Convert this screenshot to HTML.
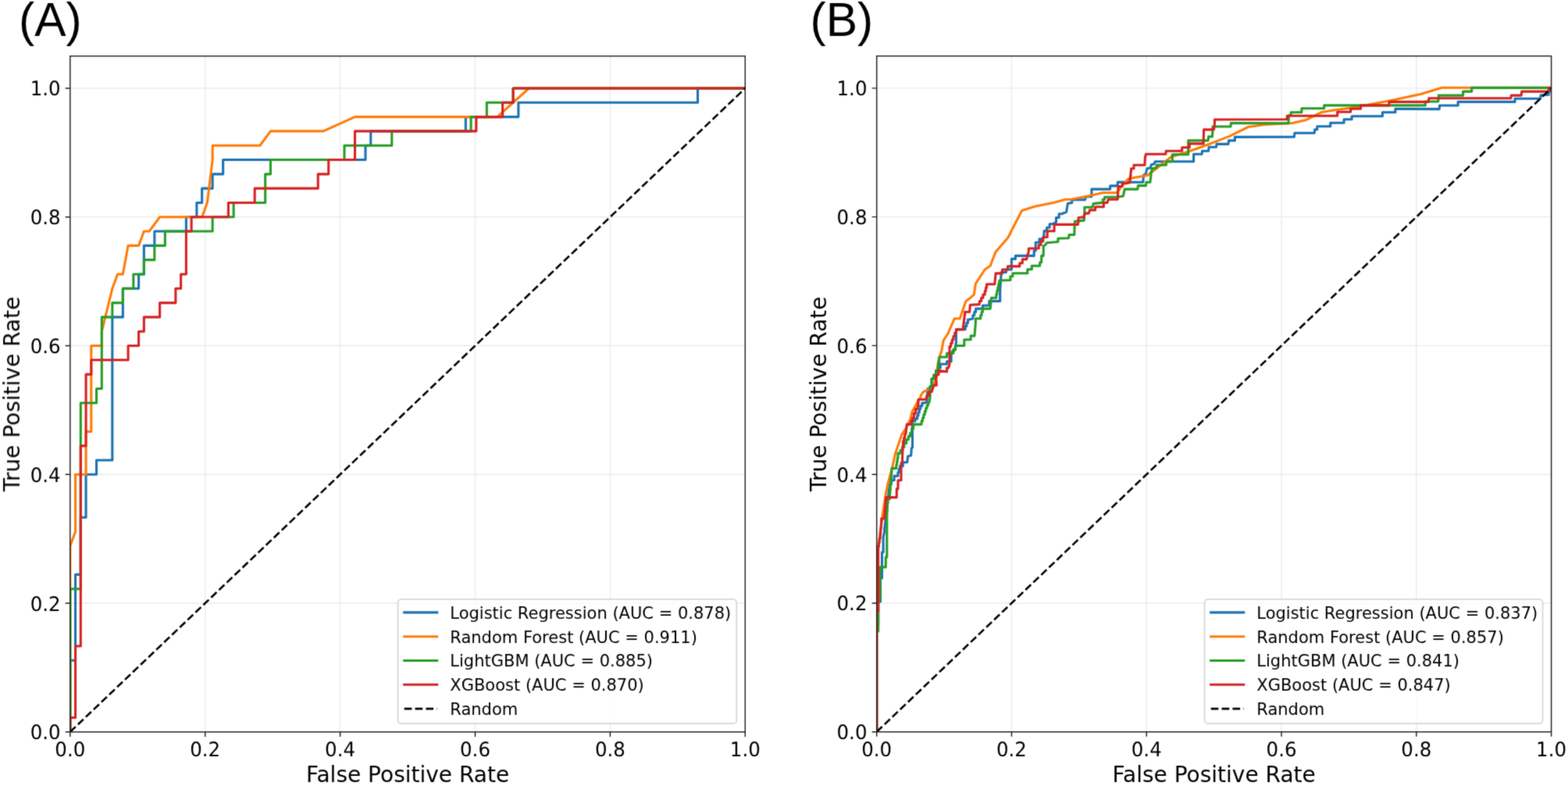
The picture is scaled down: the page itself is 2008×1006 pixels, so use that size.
<!DOCTYPE html>
<html><head><meta charset="utf-8"><title>ROC curves</title>
<style>html,body{margin:0;padding:0;background:#fff;}svg{display:block;}</style>
</head><body>
<svg width="2008" height="1006" viewBox="0 0 2008 1006">
<defs><filter id="bl" filterUnits="userSpaceOnUse" x="0" y="0" width="2008" height="1006" color-interpolation-filters="sRGB"><feConvolveMatrix order="3" kernelMatrix="1 4 1 4 20 4 1 4 1" edgeMode="duplicate"/></filter><clipPath id="ca"><rect x="89.8" y="71.8" width="864.5" height="865"/></clipPath><clipPath id="cb"><rect x="1122.7" y="71.7" width="863.9" height="865"/></clipPath></defs>
<rect width="2008" height="1006" fill="#fff"/>
<g font-family="'DejaVu Sans', 'Liberation Sans', sans-serif" fill="#000" filter="url(#bl)">
<path d="M89.8 71.8 V936.8 M89.8 936.8 H954.3 M262.7 71.8 V936.8 M89.8 772.04 H954.3 M435.6 71.8 V936.8 M89.8 607.28 H954.3 M608.5 71.8 V936.8 M89.8 442.51 H954.3 M781.4 71.8 V936.8 M89.8 277.75 H954.3 M954.3 71.8 V936.8 M89.8 112.99 H954.3" stroke="#ebebeb" stroke-width="1.4" fill="none"/>
<g clip-path="url(#ca)" fill="none" stroke-linejoin="round">
<path d="M89.8 936.8 L89.8 845.27 L96.55 845.27 L96.55 735.42 L103.31 735.42 L103.31 662.2 L110.06 662.2 L110.06 607.28 L123.57 607.28 L123.57 588.97 L143.83 588.97 L143.83 405.9 L157.34 405.9 L157.34 369.29 L177.6 369.29 L177.6 350.98 L184.35 350.98 L184.35 314.37 L197.86 314.37 L197.86 296.06 L238.39 296.06 L238.39 277.75 L251.89 277.75 L251.89 259.45 L258.65 259.45 L258.65 241.14 L272.16 241.14 L272.16 222.83 L285.66 222.83 L285.66 204.52 L468.02 204.52 L468.02 186.22 L474.77 186.22 L474.77 167.91 L596.34 167.91 L596.34 149.6 L663.88 149.6 L663.88 131.3 L893.51 131.3 L893.51 112.99 L954.3 112.99" stroke="#1b72b2" stroke-width="3.1" stroke-linecap="square"/>
<path d="M89.8 936.8 L89.8 698.81 L96.55 680.5 L96.55 607.28 L110.06 607.28 L110.06 552.36 L116.82 552.36 L116.82 442.51 L130.32 442.51 L130.32 424.21 L143.83 369.29 L150.59 350.98 L157.34 350.98 L164.09 314.37 L177.6 314.37 L184.35 296.06 L191.11 296.06 L204.62 277.75 L258.65 277.75 L265.4 259.45 L272.16 204.52 L272.16 186.22 L332.94 186.22 L346.45 167.91 L413.99 167.91 L454.51 149.6 L636.87 149.6 L677.39 112.99 L954.3 112.99" stroke="#ff7b07" stroke-width="3.1" stroke-linecap="square"/>
<path d="M89.8 936.8 L89.8 753.73 L103.31 753.73 L103.31 515.74 L123.57 515.74 L123.57 497.43 L130.32 497.43 L130.32 405.9 L143.83 405.9 L143.83 387.59 L157.34 387.59 L157.34 369.29 L170.85 369.29 L170.85 350.98 L184.35 350.98 L184.35 332.67 L197.86 332.67 L197.86 314.37 L211.37 314.37 L211.37 296.06 L272.16 296.06 L272.16 277.75 L299.17 277.75 L299.17 259.45 L339.69 259.45 L339.69 222.83 L346.45 222.83 L346.45 204.52 L441 204.52 L441 186.22 L501.79 186.22 L501.79 167.91 L603.1 167.91 L603.1 149.6 L623.36 149.6 L623.36 131.3 L657.13 131.3 L657.13 112.99 L954.3 112.99" stroke="#269d26" stroke-width="3.1" stroke-linecap="square"/>
<path d="M89.8 936.8 L89.8 918.49 L96.55 918.49 L96.55 826.96 L103.31 826.96 L103.31 570.66 L110.06 570.66 L110.06 479.13 L116.82 479.13 L116.82 460.82 L164.09 460.82 L164.09 442.51 L177.6 442.51 L177.6 424.21 L184.35 424.21 L184.35 405.9 L204.62 405.9 L204.62 387.59 L224.88 387.59 L224.88 369.29 L231.63 369.29 L231.63 350.98 L238.39 350.98 L238.39 296.06 L245.14 296.06 L245.14 277.75 L292.42 277.75 L292.42 259.45 L326.19 259.45 L326.19 241.14 L407.23 241.14 L407.23 222.83 L420.74 222.83 L420.74 204.52 L454.51 204.52 L454.51 167.91 L609.85 167.91 L609.85 149.6 L643.62 149.6 L643.62 131.3 L657.13 131.3 L657.13 112.99 L954.3 112.99" stroke="#d62222" stroke-width="3.1" stroke-linecap="square"/>
<path d="M89.8 936.8 L954.3 112.99" stroke="#000" stroke-width="2.6" stroke-dasharray="9.67 4.19"/>
</g>
<rect x="89.8" y="71.8" width="864.5" height="865" fill="none" stroke="#1c1c1c" stroke-width="1.4"/>
<path d="M89.8 936.8 v6.1 M89.8 936.8 h-6.1 M262.7 936.8 v6.1 M89.8 772.04 h-6.1 M435.6 936.8 v6.1 M89.8 607.28 h-6.1 M608.5 936.8 v6.1 M89.8 442.51 h-6.1 M781.4 936.8 v6.1 M89.8 277.75 h-6.1 M954.3 936.8 v6.1 M89.8 112.99 h-6.1" stroke="#1c1c1c" stroke-width="1.4"/>
<g font-size="24.5" text-rendering="geometricPrecision">
<text x="89.8" y="968.1" text-anchor="middle" transform="matrix(1 0 0 1.045 0 -43.56)">0.0</text>
<text x="77.6" y="945.8" text-anchor="end" transform="matrix(1 0 0 1.045 0 -42.06)">0.0</text>
<text x="262.7" y="968.1" text-anchor="middle" transform="matrix(1 0 0 1.045 0 -43.56)">0.2</text>
<text x="77.6" y="781.04" text-anchor="end" transform="matrix(1 0 0 1.045 0 -34.65)">0.2</text>
<text x="435.6" y="968.1" text-anchor="middle" transform="matrix(1 0 0 1.045 0 -43.56)">0.4</text>
<text x="77.6" y="616.28" text-anchor="end" transform="matrix(1 0 0 1.045 0 -27.23)">0.4</text>
<text x="608.5" y="968.1" text-anchor="middle" transform="matrix(1 0 0 1.045 0 -43.56)">0.6</text>
<text x="77.6" y="451.51" text-anchor="end" transform="matrix(1 0 0 1.045 0 -19.82)">0.6</text>
<text x="781.4" y="968.1" text-anchor="middle" transform="matrix(1 0 0 1.045 0 -43.56)">0.8</text>
<text x="77.6" y="286.75" text-anchor="end" transform="matrix(1 0 0 1.045 0 -12.4)">0.8</text>
<text x="954.3" y="968.1" text-anchor="middle" transform="matrix(1 0 0 1.045 0 -43.56)">1.0</text>
<text x="77.6" y="121.99" text-anchor="end" transform="matrix(1 0 0 1.045 0 -4.99)">1.0</text>
</g>
<text x="522.05" y="1001.4" font-size="28" text-anchor="middle">False Positive Rate</text>
<text transform="translate(25 504.3) rotate(-90)" font-size="28" text-anchor="middle">True Positive Rate</text>
<text x="24" y="46.3" font-size="60.5" font-family="'Liberation Sans', Arial, sans-serif">(A)</text>
<rect x="509.6" y="767.2" width="433.7" height="159" rx="4.2" ry="4.2" fill="#fff" fill-opacity="0.8" stroke="#d6d6d6" stroke-width="1.75"/>
<path d="M517.7 783.9 H559.7" stroke="#1b72b2" stroke-width="3.1" stroke-linecap="square"/>
<text x="576.3" y="791.7" font-size="21">Logistic Regression (AUC = 0.878)</text>
<path d="M517.7 814.7 H559.7" stroke="#ff7b07" stroke-width="3.1" stroke-linecap="square"/>
<text x="576.3" y="822.5" font-size="21">Random Forest (AUC = 0.911)</text>
<path d="M517.7 845.5 H559.7" stroke="#269d26" stroke-width="3.1" stroke-linecap="square"/>
<text x="576.3" y="853.3" font-size="21">LightGBM (AUC = 0.885)</text>
<path d="M517.7 876.3 H559.7" stroke="#d62222" stroke-width="3.1" stroke-linecap="square"/>
<text x="576.3" y="884.1" font-size="21">XGBoost (AUC = 0.870)</text>
<path d="M517.7 907.1 H559.7" stroke="#000" stroke-width="2.6" stroke-dasharray="9.67 4.19"/>
<text x="576.3" y="914.9" font-size="21">Random</text>
<path d="M1122.7 71.7 V936.7 M1122.7 936.7 H1986.6 M1295.48 71.7 V936.7 M1122.7 771.94 H1986.6 M1468.26 71.7 V936.7 M1122.7 607.18 H1986.6 M1641.04 71.7 V936.7 M1122.7 442.41 H1986.6 M1813.82 71.7 V936.7 M1122.7 277.65 H1986.6 M1986.6 71.7 V936.7 M1122.7 112.89 H1986.6" stroke="#ebebeb" stroke-width="1.4" fill="none"/>
<g clip-path="url(#cb)" fill="none" stroke-linejoin="round">
<path d="M1122.7 936.7 L1122.7 800 L1124.7 800 L1124.7 770 L1127.5 770 L1127.5 745 L1127.5 740 L1129.5 740 L1129.5 706.8 L1131.1 706.8 L1131.1 687.7 L1132.7 679.7 L1132.7 675.19 L1133.23 675.19 L1133.23 670.68 L1133.77 670.68 L1133.77 666.18 L1134.3 666.18 L1134.3 661.67 L1134.83 661.67 L1134.83 657.16 L1135.37 657.16 L1135.37 652.65 L1135.9 652.65 L1135.9 648.14 L1136.43 648.14 L1136.43 643.63 L1136.97 643.63 L1136.97 639.12 L1137.5 639.12 L1137.5 634.62 L1138.03 634.62 L1138.03 630.11 L1138.57 630.11 L1138.57 625.6 L1139.1 625.6 L1139.1 620.15 L1141.25 620.15 L1141.25 614.7 L1143.4 614.7 L1145.1 614.7 L1145.1 609.3 L1149.9 609.3 L1149.9 604.65 L1151.2 604.65 L1151.2 600 L1152.5 600 L1152.5 596.6 L1156.3 596.6 L1156.3 591.8 L1161.8 591.8 L1162.6 583.9 L1166.6 583.1 L1167.4 573.5 L1168.5 572.7 L1168.5 551.4 L1168.3 545.8 L1168.3 538.9 L1171.8 538.9 L1171.8 536.1 L1174.6 536.1 L1174.6 531.93 L1175.97 531.93 L1175.97 527.77 L1177.33 527.77 L1177.33 523.6 L1178.7 523.6 L1178.7 519.75 L1180.8 519.75 L1180.8 515.9 L1182.9 515.9 L1186.8 514.7 L1188.2 497.3 L1191 497.3 L1191 494.5 L1193.1 494.5 L1193.1 484.8 L1195.9 484.8 L1195.9 479.9 L1198.6 479.9 L1198.6 474.3 L1201.5 474.3 L1201.5 470.9 L1204.2 470.9 L1204.2 466 L1212.6 466 L1212.6 462.5 L1218.1 462.5 L1218.1 454.2 L1219.5 450 L1222.6 448.4 L1224.4 438.3 L1224.4 425.8 L1224.4 421.6 L1236.2 421.6 L1236.2 417.43 L1237.83 417.43 L1237.83 413.27 L1239.47 413.27 L1239.47 409.1 L1241.1 409.1 L1245.9 407.7 L1245.9 403.5 L1247.77 403.5 L1247.77 399.3 L1249.63 399.3 L1249.63 395.1 L1251.5 395.1 L1258.4 395.1 L1258.4 391 L1266.8 391 L1266.8 385.4 L1269.6 385.4 L1280.7 385.4 L1280.7 371.5 L1282.1 352 L1282.1 348.5 L1288.35 348.5 L1288.35 345 L1294.6 345 L1295.4 345 L1295.4 331.4 L1300.4 331.4 L1300.4 327.4 L1324.2 327.4 L1324.2 320.9 L1326.2 320.9 L1326.2 314.5 L1326.2 310.2 L1331 310.2 L1331 305.9 L1335.8 305.9 L1337 300 L1337 295.6 L1340.57 295.6 L1340.57 291.2 L1344.13 291.2 L1344.13 286.8 L1347.7 286.8 L1352.5 284.4 L1352.5 278.5 L1356.1 278.5 L1356.1 273.7 L1359.7 273.7 L1365.6 271.3 L1367.4 260.6 L1372.8 259.4 L1372.8 255.8 L1389.5 255.8 L1390.7 251.6 L1397.9 251.6 L1397.9 242.1 L1421.7 242.1 L1421.7 237.9 L1431.3 237.9 L1431.3 233.1 L1463.9 233.2 L1464.4 224.2 L1467.4 222.2 L1468.9 215.7 L1473.4 214.7 L1474.4 210.8 L1478.3 209.8 L1479.3 206.8 L1528.6 206.8 L1528.6 197.3 L1539.1 197.3 L1539.6 193.3 L1547.6 193.3 L1548.1 188.3 L1557.5 188.3 L1558 184.4 L1573 184.4 L1573.5 179.9 L1581.4 179.9 L1581.4 175.4 L1657.4 175.2 L1657.9 170.2 L1683.3 170.2 L1683.8 165.7 L1686.8 165.7 L1686.8 161.8 L1703.7 161.8 L1703.7 157.3 L1721.1 157.3 L1721.1 152.8 L1731.1 152.8 L1731.1 148.8 L1770.4 148.8 L1770.4 143.8 L1786.9 143.8 L1786.9 139.3 L1843.2 139.6 L1843.6 135 L1867.1 135 L1867.1 130.4 L1940 130.4 L1940 126.3 L1972.7 126.3 L1973.1 121.7 L1983.3 121.2 L1983.3 116.85 L1984.95 116.85 L1984.95 112.5 L1986.6 112.5" stroke="#1b72b2" stroke-width="3.1" stroke-linecap="square"/>
<path d="M1122.7 936.7 L1122.7 712 L1125 700 L1127 682.5 L1130.3 658.5 L1133.6 636.6 L1136.9 619.1 L1141.3 603.8 L1146.7 580.1 L1155.1 555.6 L1159.2 550 L1165.5 537.5 L1168.3 526.4 L1174.6 515.2 L1178.5 509.1 L1179.9 504.9 L1182.6 501.5 L1188.9 498.7 L1193 495 L1196.6 490.3 L1200 480.6 L1200 473 L1202.1 460.4 L1203.5 455.6 L1205.6 450 L1208.3 435.5 L1213.9 427.2 L1222.3 407.7 L1229.2 407.7 L1236.9 385.4 L1241.7 381.9 L1247.3 377.1 L1249.4 363.1 L1261.2 345 L1268.2 340.2 L1272 330 L1275 322.6 L1290.6 304.5 L1308.7 269.4 L1325.1 264.2 L1348.9 259.4 L1364.4 255.2 L1371.6 255.2 L1395.5 250.4 L1412.2 246.8 L1430.1 246.8 L1437 238 L1445 228.7 L1469.9 224.2 L1489.8 208.8 L1499.8 200.8 L1519.7 194.8 L1539.6 187.8 L1574.5 174.4 L1598.4 162.5 L1619.3 159.5 L1653.9 157.8 L1671.8 153.8 L1691.8 143.8 L1709.7 140.8 L1729.6 138.3 L1749.5 134.4 L1779.4 128.9 L1819.2 120.6 L1846.4 112.2 L1986.6 112.2" stroke="#ff7b07" stroke-width="3.1" stroke-linecap="square"/>
<path d="M1122.7 936.7 L1122.7 808 L1124.7 808 L1124.7 767.2 L1127.1 767.2 L1127.1 725.9 L1134.3 725.9 L1134.3 713.1 L1135.8 713.1 L1135.8 660.7 L1136.9 638.8 L1139.1 638.8 L1140.2 625.6 L1140.2 621.23 L1140.57 621.23 L1140.57 616.87 L1140.93 616.87 L1140.93 612.5 L1141.3 612.5 L1141.3 608.13 L1141.67 608.13 L1141.67 603.77 L1142.03 603.77 L1142.03 599.4 L1142.4 599.4 L1147.8 599.4 L1147.8 595.03 L1148.53 595.03 L1148.53 590.67 L1149.27 590.67 L1149.27 586.3 L1150 586.3 L1150 580.1 L1153 580.1 L1153 576.2 L1155.45 576.2 L1155.45 572.3 L1157.9 572.3 L1157.9 567.45 L1160.65 567.45 L1160.65 562.6 L1163.4 562.6 L1163.4 558.4 L1165.5 558.4 L1165.5 554.2 L1167.6 554.2 L1167.6 548.65 L1169.7 548.65 L1169.7 543.1 L1171.8 543.1 L1180.1 543.1 L1180.1 538.9 L1181.5 538.9 L1181.5 534.7 L1182.9 534.7 L1182.9 530.53 L1184.3 530.53 L1184.3 526.37 L1185.7 526.37 L1185.7 522.2 L1187.1 522.2 L1187.1 518.7 L1188.5 518.7 L1188.5 515.2 L1189.9 515.2 L1191 509.1 L1191 494.5 L1193.1 494.5 L1193.1 484.8 L1195.9 484.8 L1195.9 479.9 L1198.6 479.9 L1198.6 474.3 L1201.5 474.3 L1201.5 463.9 L1202.8 463.9 L1202.8 457 L1212.6 457 L1212.6 452.1 L1220.9 452.2 L1220.9 447.35 L1223.65 447.35 L1223.65 442.5 L1226.4 442.5 L1234.8 442.5 L1234.8 434.8 L1243.1 434.8 L1243.1 429.9 L1248 429.9 L1249.4 413.2 L1249.4 407.7 L1255.7 407.7 L1255.7 403.5 L1257.07 403.5 L1257.07 399.3 L1258.43 399.3 L1258.43 395.1 L1259.8 395.1 L1268.2 395.1 L1269.6 381.2 L1275.8 381.2 L1275.8 376.76 L1276.78 376.76 L1276.78 372.32 L1277.76 372.32 L1277.76 367.88 L1278.74 367.88 L1278.74 363.44 L1279.72 363.44 L1279.72 359 L1280.7 359 L1293.9 358.5 L1293.9 353.7 L1296.9 353.7 L1296.9 349.8 L1315.8 349.8 L1315.8 344.8 L1321.3 344.8 L1321.3 340.3 L1331.7 340.3 L1331.7 335.8 L1333.7 335.8 L1333.7 327.4 L1336.2 327.4 L1336.2 315 L1339.1 313 L1340.6 310.7 L1354.9 309.5 L1354.9 305.3 L1368.6 304.7 L1369.2 300.5 L1375.8 300.5 L1376.4 283.2 L1388.3 282.1 L1388.9 269.5 L1388.9 265.3 L1399 265.3 L1400.2 260.6 L1412.2 259.4 L1412.2 255.2 L1414.6 255.2 L1414.6 252.2 L1429.5 252.2 L1438.4 251 L1440.2 242.1 L1456.9 242.1 L1457.4 237.6 L1467.4 237.6 L1467.9 233.2 L1472.9 233.2 L1473.9 224.7 L1473.9 220.2 L1474.9 220.2 L1474.9 215.7 L1475.9 215.7 L1480.8 214.7 L1481.3 211.3 L1493.3 211.3 L1493.8 206.8 L1501.3 206.8 L1501.3 197.8 L1521.7 197.8 L1521.7 179.9 L1547.1 179.9 L1547.6 174.9 L1552.5 174.9 L1553 166.4 L1553 162 L1557.5 162 L1576 162 L1576.5 157.5 L1649.9 157.8 L1650.4 151.8 L1650.4 147.8 L1653.15 147.8 L1653.15 143.8 L1655.9 143.8 L1666.9 143.8 L1666.9 138.8 L1695.7 138.8 L1695.7 134.9 L1825.2 134.9 L1825.2 130 L1841.8 130 L1842.3 122.1 L1873.6 122.1 L1873.6 117.1 L1884.7 117.1 L1884.7 112.4 L1986.6 112.4" stroke="#269d26" stroke-width="3.1" stroke-linecap="square"/>
<path d="M1122.7 936.7 L1122.7 782 L1124.7 782 L1124.7 703.6 L1124.7 699.07 L1125.47 699.07 L1125.47 694.53 L1126.23 694.53 L1126.23 690 L1127 690 L1128.7 668.6 L1128.7 663.8 L1132.7 663.8 L1132.7 659.04 L1133.1 659.04 L1133.1 654.28 L1133.5 654.28 L1133.5 649.52 L1133.9 649.52 L1133.9 644.76 L1134.3 644.76 L1134.3 640 L1134.7 640 L1134.7 636.6 L1148.3 636.6 L1148.3 625.6 L1150 625.6 L1150 614.7 L1154 614.7 L1154 592.8 L1155.5 590.6 L1155.8 580.1 L1156.5 569.5 L1156.5 564.87 L1157.63 564.87 L1157.63 560.23 L1158.77 560.23 L1158.77 555.6 L1159.9 555.6 L1161.3 543.1 L1166.9 543.1 L1166.9 538.9 L1168.65 538.9 L1168.65 534.7 L1170.4 534.7 L1170.4 529.15 L1172.5 529.15 L1172.5 523.6 L1174.6 523.6 L1176 518 L1176 511.2 L1179.2 511.2 L1186.1 511.2 L1186.8 506.3 L1189.6 506.3 L1190.3 501.5 L1193.1 501.5 L1194.5 497.3 L1195.9 493.1 L1199.3 493.1 L1198.6 480.6 L1202.1 479.2 L1202.1 474.3 L1212.6 475.7 L1212.6 470.9 L1214.6 470.9 L1216 466 L1216 450 L1216 448 L1216 443.6 L1217.63 443.6 L1217.63 439.2 L1219.27 439.2 L1219.27 434.8 L1220.9 434.8 L1220.9 430.4 L1222.73 430.4 L1222.73 426 L1224.57 426 L1224.57 421.6 L1226.4 421.6 L1233.4 421.6 L1233.4 417.14 L1233.96 417.14 L1233.96 412.68 L1234.52 412.68 L1234.52 408.22 L1235.08 408.22 L1235.08 403.76 L1235.64 403.76 L1235.64 399.3 L1236.2 399.3 L1241.7 399.3 L1242.4 390.3 L1254.3 389.6 L1254.3 385.43 L1256.6 385.43 L1256.6 381.27 L1258.9 381.27 L1258.9 377.1 L1261.2 377.1 L1261.2 372.67 L1262.37 372.67 L1262.37 368.23 L1263.53 368.23 L1263.53 363.8 L1264.7 363.8 L1273.8 363.8 L1275.1 349.9 L1283.5 349.9 L1283.5 345 L1290.5 345 L1290.5 340.9 L1305.8 340.9 L1305.8 336.8 L1309.3 336.8 L1309.3 331.9 L1314.8 331.9 L1315.5 327 L1317.3 322.5 L1317.3 318 L1330.2 318 L1330.2 313.45 L1333 313.45 L1333 308.9 L1335.8 308.9 L1335.8 303.5 L1341.2 303.5 L1341.2 295.8 L1350.1 295.8 L1350.1 287.4 L1380.5 287.4 L1381.1 278.5 L1387.7 277.9 L1389.5 273.1 L1394.3 273.1 L1395.5 268.9 L1402.6 268.9 L1402.6 264.7 L1413.4 264.7 L1413.4 259.4 L1418.1 259.4 L1419.3 255.2 L1431.3 255.2 L1431.9 242.1 L1431.9 238.5 L1437.2 238.5 L1437.2 234.7 L1442 234.7 L1447 233.7 L1447 229.2 L1447.5 229.2 L1447.5 224.7 L1448 224.7 L1448 220.2 L1448.5 220.2 L1448.5 215.7 L1449 215.7 L1452 215.7 L1452 211.3 L1465.9 211.3 L1466.4 201.8 L1467.4 197.3 L1492.8 197.3 L1493.3 193.3 L1513.7 193.3 L1513.7 188.8 L1523.2 188.8 L1523.2 183.9 L1541.1 183.9 L1541.6 165.9 L1554.5 165.9 L1555.5 158 L1555.5 153 L1557.5 153 L1647.9 152.8 L1648.4 148.3 L1712.7 148.3 L1712.7 143.3 L1729.6 143.3 L1729.6 139.3 L1742.5 139.3 L1742.5 134.9 L1778.9 134.9 L1778.9 130.4 L1829.4 130.4 L1829.8 125.8 L1934.9 125.8 L1935.3 122.1 L1948.2 122.1 L1948.7 117.1 L1983.3 117.1 L1983.3 112.5 L1986.6 112.5" stroke="#d62222" stroke-width="3.1" stroke-linecap="square"/>
<path d="M1122.7 936.7 L1986.6 112.89" stroke="#000" stroke-width="2.6" stroke-dasharray="9.67 4.19"/>
</g>
<rect x="1122.7" y="71.7" width="863.9" height="865" fill="none" stroke="#1c1c1c" stroke-width="1.4"/>
<path d="M1122.7 936.7 v6.1 M1122.7 936.7 h-6.1 M1295.48 936.7 v6.1 M1122.7 771.94 h-6.1 M1468.26 936.7 v6.1 M1122.7 607.18 h-6.1 M1641.04 936.7 v6.1 M1122.7 442.41 h-6.1 M1813.82 936.7 v6.1 M1122.7 277.65 h-6.1 M1986.6 936.7 v6.1 M1122.7 112.89 h-6.1" stroke="#1c1c1c" stroke-width="1.4"/>
<g font-size="24.5" text-rendering="geometricPrecision">
<text x="1122.7" y="968" text-anchor="middle" transform="matrix(1 0 0 1.045 0 -43.56)">0.0</text>
<text x="1110.5" y="945.7" text-anchor="end" transform="matrix(1 0 0 1.045 0 -42.06)">0.0</text>
<text x="1295.48" y="968" text-anchor="middle" transform="matrix(1 0 0 1.045 0 -43.56)">0.2</text>
<text x="1110.5" y="780.94" text-anchor="end" transform="matrix(1 0 0 1.045 0 -34.64)">0.2</text>
<text x="1468.26" y="968" text-anchor="middle" transform="matrix(1 0 0 1.045 0 -43.56)">0.4</text>
<text x="1110.5" y="616.18" text-anchor="end" transform="matrix(1 0 0 1.045 0 -27.23)">0.4</text>
<text x="1641.04" y="968" text-anchor="middle" transform="matrix(1 0 0 1.045 0 -43.56)">0.6</text>
<text x="1110.5" y="451.41" text-anchor="end" transform="matrix(1 0 0 1.045 0 -19.81)">0.6</text>
<text x="1813.82" y="968" text-anchor="middle" transform="matrix(1 0 0 1.045 0 -43.56)">0.8</text>
<text x="1110.5" y="286.65" text-anchor="end" transform="matrix(1 0 0 1.045 0 -12.4)">0.8</text>
<text x="1986.6" y="968" text-anchor="middle" transform="matrix(1 0 0 1.045 0 -43.56)">1.0</text>
<text x="1110.5" y="121.89" text-anchor="end" transform="matrix(1 0 0 1.045 0 -4.99)">1.0</text>
</g>
<text x="1554.65" y="1001.4" font-size="28" text-anchor="middle">False Positive Rate</text>
<text transform="translate(1057.9 504.2) rotate(-90)" font-size="28" text-anchor="middle">True Positive Rate</text>
<text x="1037.5" y="46.3" font-size="60.5" font-family="'Liberation Sans', Arial, sans-serif">(B)</text>
<rect x="1542.6" y="767.2" width="433" height="159" rx="4.2" ry="4.2" fill="#fff" fill-opacity="0.8" stroke="#d6d6d6" stroke-width="1.75"/>
<path d="M1550.7 783.9 H1592.7" stroke="#1b72b2" stroke-width="3.1" stroke-linecap="square"/>
<text x="1609.3" y="791.7" font-size="21">Logistic Regression (AUC = 0.837)</text>
<path d="M1550.7 814.7 H1592.7" stroke="#ff7b07" stroke-width="3.1" stroke-linecap="square"/>
<text x="1609.3" y="822.5" font-size="21">Random Forest (AUC = 0.857)</text>
<path d="M1550.7 845.5 H1592.7" stroke="#269d26" stroke-width="3.1" stroke-linecap="square"/>
<text x="1609.3" y="853.3" font-size="21">LightGBM (AUC = 0.841)</text>
<path d="M1550.7 876.3 H1592.7" stroke="#d62222" stroke-width="3.1" stroke-linecap="square"/>
<text x="1609.3" y="884.1" font-size="21">XGBoost (AUC = 0.847)</text>
<path d="M1550.7 907.1 H1592.7" stroke="#000" stroke-width="2.6" stroke-dasharray="9.67 4.19"/>
<text x="1609.3" y="914.9" font-size="21">Random</text>
</g></svg>
</body></html>
